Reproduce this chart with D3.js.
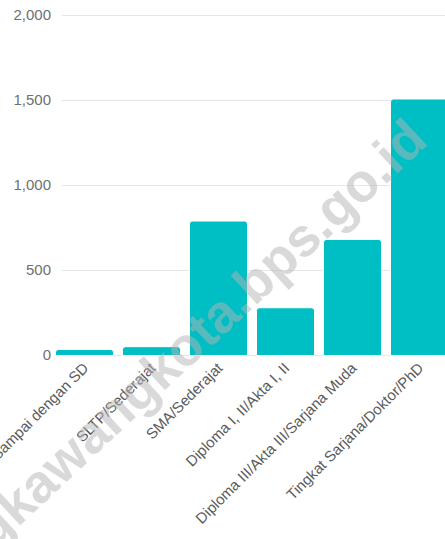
<!DOCTYPE html>
<html>
<head>
<meta charset="utf-8">
<script src="https://cdn.jsdelivr.net/npm/d3@7"></script>
<style>
  html, body { margin: 0; padding: 0; background: #fff; }
  svg { display: block; }
</style>
</head>
<body>
<svg id="chart" width="445" height="539"></svg>
<script>
const categories = [
  "Tamat Sampai dengan SD",
  "SLTP/Sederajat",
  "SMA/Sederajat",
  "Diploma I, II/Akta I, II",
  "Diploma III/Akta III/Sarjana Muda",
  "Tingkat Sarjana/Doktor/PhD"
];
const values = [33, 49, 788, 278, 680, 1506];
const yTicks = [0, 500, 1000, 1500, 2000];
const watermarkText = "singkawangkota.bps.go.id";

const W = 445, H = 539;
const svg = d3.select("#chart");
const font = "'Liberation Sans', Arial, sans-serif";

const x = d3.scaleBand()
  .domain(categories)
  .range([51, 453])
  .paddingInner(0.134)
  .paddingOuter(0.067);

const y = d3.scaleLinear().domain([0, 2000]).range([355, 15]);

// gridlines
svg.append("g").selectAll("line").data(yTicks).join("line")
  .attr("x1", 62).attr("x2", W)
  .attr("y1", d => y(d) + 0.5).attr("y2", d => y(d) + 0.5)
  .attr("stroke", "#e6e6e6").attr("stroke-width", 1);

// y labels
svg.append("g").selectAll("text").data(yTicks).join("text")
  .attr("x", 51).attr("y", d => y(d))
  .attr("dy", "0.35em")
  .attr("text-anchor", "end")
  .attr("font-family", font).attr("font-size", 15)
  .attr("fill", "#707070")
  .text(d => d3.format(",")(d));

// bars
svg.append("g").selectAll("path").data(values).join("path")
  .attr("d", (d, i) => {
    const x0 = x(categories[i]), w = x.bandwidth();
    const top = y(d), bot = y(0) + 0.5, r = Math.min(3, (bot - top) / 2);
    return `M${x0},${bot} L${x0},${top + r} Q${x0},${top} ${x0 + r},${top} L${x0 + w - r},${top} Q${x0 + w},${top} ${x0 + w},${top + r} L${x0 + w},${bot} Z`;
  })
  .attr("fill", "#00bfc4")
  .attr("stroke", "#ffffff").attr("stroke-width", 1);

// x labels
svg.append("g").selectAll("text").data(categories).join("text")
  .attr("transform", d => `translate(${x(d) + x.bandwidth() / 2 + 5},${369}) rotate(-45)`)
  .attr("text-anchor", "end")
  .attr("font-family", font).attr("font-size", 15)
  .attr("fill", "#5a5a5a")
  .text(d => d);

// watermark
svg.append("text")
  .attr("transform", "translate(430,143) rotate(-43)")
  .attr("text-anchor", "end")
  .attr("font-family", font).attr("font-size", 54).attr("font-weight", "bold")
  .attr("fill", "rgba(180,180,180,0.5)")
  .text(watermarkText);
</script>
</body>
</html>
